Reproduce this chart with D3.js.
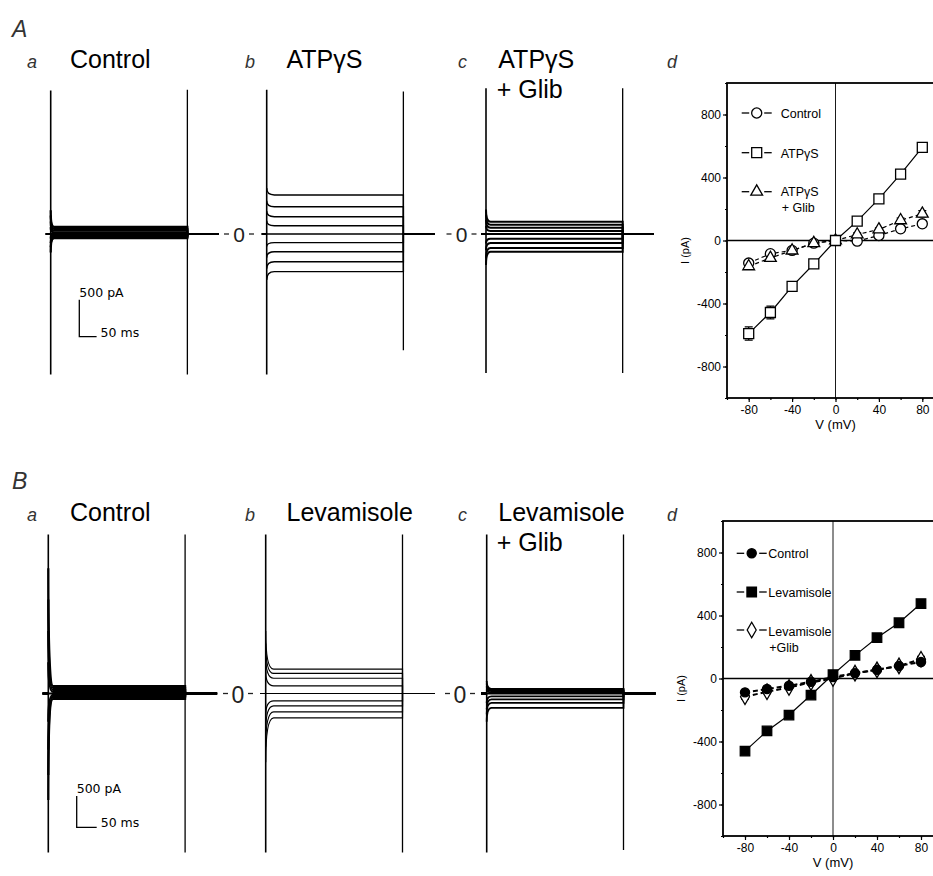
<!DOCTYPE html>
<html lang="en">
<head>
<meta charset="UTF-8">
<title>Whole-cell currents: ATPgammaS and levamisole</title>
<style>
  body { margin: 0; background: #fff; }
  text { font-family: "Liberation Sans", Arial, sans-serif; fill: #000; }
  .lbl { font-style: italic; fill: #333; }
</style>
</head>
<body>
<div id="fig"></div>
<script src="https://d3js.org/d3.v7.min.js"></script>
<script>
// step potentials (mV)
var steps = [-80, -60, -40, -20, 0, 20, 40, 60, 80];

// steady current of each trace in the recordings (pA), one per step
var trCtrlA = [-55, -40, -25, -12, 0, 20, 45, 70, 95];
var trAtpA  = [-509, -374, -239, -117, 0, 112, 234, 369, 527];
var trGlibA = [-240, -190, -120, -65, 0, 40, 85, 125, 166];
var trCtrlB = [-85, -60, -40, -20, 0, 25, 55, 90, 120];
var trLevB  = [-388, -293, -197, -117, 0, 122, 244, 320, 388];
var trGlibB = [-230, -150, -95, -45, 0, 20, 40, 60, 75];

// current right after the onset transient (pA)
var onCtrlA = [-250, -180, -120, -60, 0, 90, 170, 250, 320];
var onAtpA  = [-620, -470, -320, -170, 0, 180, 310, 450, 620];
var onGlibA = [-420, -330, -220, -130, 0, 110, 190, 260, 330];
var onCtrlB = [-1700, -1300, -900, -450, 0, 500, 1000, 1500, 2000];
var onLevB  = [-1100, -850, -600, -350, 0, 350, 600, 800, 1000];
var onGlibB = [-450, -330, -250, -150, 0, 60, 110, 160, 200];

// capacitive spikes: [onset top, onset bottom, offset top, offset bottom] (pA)
var spkCtrlA = [1940, -1900, 1950, -1900];
var spkAtpA  = [1950, -1900, 1925, -1570];
var spkGlibA = [1970, -1880, 1970, -1880];
var spkCtrlB = [2540, -2540, 2540, -2540];
var spkLevB  = [2540, -2540, 2540, -2540];
var spkGlibB = [2540, -2540, 2540, -2500];

// I-V means and s.e.m. (pA)
var ivCtrlA  = [-143, -84, -63, -17, 0, -4, 32, 74, 106];
var errCtrlA = [15, 15, 10, 8, 4, 8, 10, 15, 20];
var ivAtpA   = [-591, -457, -291, -149, 0, 123, 264, 421, 591];
var errAtpA  = [42, 40, 12, 12, 5, 15, 15, 15, 30];
var ivGlibA  = [-164, -111, -64, -17, 0, 38, 70, 128, 170];
var errGlibA = [15, 12, 10, 8, 4, 10, 10, 15, 20];

var ivCtrlB  = [-88, -67, -46, -21, 10, 34, 55, 80, 105];
var errCtrlB = [15, 12, 10, 10, 8, 10, 10, 12, 15];
var ivLevB   = [-461, -333, -232, -105, 25, 147, 259, 354, 476];
var errLevB  = [20, 18, 15, 12, 10, 15, 15, 18, 20];
var ivLevGlibB  = [-116, -84, -57, -25, 0, 34, 55, 80, 122];
var errLevGlibB = [15, 12, 10, 10, 8, 10, 10, 12, 18];

var ivYTicks = [-800, -400, 0, 400, 800];
var ivXTicks = [-80, -40, 0, 40, 80];

var svg = d3.select("#fig").append("svg")
    .attr("width", 933)
    .attr("height", 876);

// ---------- current traces ----------
var rowA = {zeroY: 234, pa500: 37, ms50: 17.3, stepMs: 395, preMs: 14, postMs: 90,
            x0: [50.7, 266.7, 486], bar: [79.3, 336.7], zeroLbl: [239, 461.5]};
var rowB = {zeroY: 693.5, pa500: 31.3, ms50: 20, stepMs: 342, preMs: 14, postMs: 80,
            x0: [48.3, 265.7, 486.7], bar: [76.7, 827.3], zeroLbl: [238, 460]};

function drawPanel(row, k, levels, onsets, spikes, relaxMs, sw) {
    var g = svg.append("g");
    var x = d3.scaleLinear().domain([0, 50]).range([row.x0[k], row.x0[k] + row.ms50]);
    var y = d3.scaleLinear().domain([0, 500]).range([row.zeroY, row.zeroY - row.pa500]);

    levels.forEach(function(lev, i) {
        var p = d3.path();
        p.moveTo(x(-row.preMs), y(0));
        p.lineTo(x(0), y(0));
        p.moveTo(x(0), y(onsets[i]));
        p.quadraticCurveTo(x(0), y(lev), x(relaxMs), y(lev));
        p.lineTo(x(row.stepMs), y(lev));
        p.lineTo(x(row.stepMs), y(0));
        p.lineTo(x(row.stepMs + row.postMs), y(0));
        g.append("path")
            .attr("d", p.toString())
            .attr("fill", "none")
            .attr("stroke", "#000")
            .attr("stroke-width", sw);
    });

    g.append("line")
        .attr("x1", x(0)).attr("x2", x(0))
        .attr("y1", y(spikes[0])).attr("y2", y(spikes[1]))
        .attr("stroke", "#000").attr("stroke-width", 1.6);
    g.append("line")
        .attr("x1", x(row.stepMs)).attr("x2", x(row.stepMs))
        .attr("y1", y(spikes[2])).attr("y2", y(spikes[3]))
        .attr("stroke", "#000").attr("stroke-width", 1.3);
}

drawPanel(rowA, 0, trCtrlA, onCtrlA, spkCtrlA, 10, 2.2);
drawPanel(rowA, 1, trAtpA, onAtpA, spkAtpA, 22, 1.4);
drawPanel(rowA, 2, trGlibA, onGlibA, spkGlibA, 13, 2);
drawPanel(rowB, 0, trCtrlB, onCtrlB, spkCtrlB, 12, 2.2);
drawPanel(rowB, 1, trLevB, onLevB, spkLevB, 20, 1.2);
drawPanel(rowB, 2, trGlibB, onGlibB, spkGlibB, 12, 1.8);

// "- 0 -" zero-current markers and scale bars
[rowA, rowB].forEach(function(row, r) {
    row.zeroLbl.forEach(function(cx) {
        svg.append("text")
            .attr("x", cx).attr("y", row.zeroY + (r ? 9 : 8))
            .attr("text-anchor", "middle")
            .style("font-size", r ? "23px" : "21px")
            .style("fill", "#222")
            .text("0");
        [-1, 1].forEach(function(s) {
            svg.append("line")
                .attr("x1", cx + s * 10).attr("x2", cx + s * 15)
                .attr("y1", row.zeroY).attr("y2", row.zeroY)
                .attr("stroke", "#222").attr("stroke-width", 1.3);
        });
    });

    var bx = d3.scaleLinear().domain([0, 50]).range([row.bar[0], row.bar[0] + row.ms50]);
    var by = d3.scaleLinear().domain([0, 500]).range([row.bar[1], row.bar[1] - row.pa500]);
    svg.append("path")
        .attr("d", "M" + bx(0) + "," + by(500) + "V" + by(0) + "H" + bx(50))
        .attr("fill", "none").attr("stroke", "#000").attr("stroke-width", 1.3);
    svg.append("text")
        .attr("x", bx(0)).attr("y", by(500) - 3)
        .style("font-family", "'DejaVu Sans', sans-serif")
        .style("font-size", "12.5px")
        .text("500 pA");
    svg.append("text")
        .attr("x", bx(50) + 4).attr("y", by(0))
        .style("font-family", "'DejaVu Sans', sans-serif")
        .style("font-size", "12.5px")
        .text("50 ms");
});

// ---------- headings ----------
function head(x, y, s, size, cls) {
    svg.append("text").attr("x", x).attr("y", y)
        .attr("class", cls || null)
        .style("font-size", size + "px")
        .text(s);
}
head(12, 36.7, "A", 23, "lbl");
head(12, 489, "B", 23, "lbl");
[[68.3, "Control", "ATPγS"], [521, "Control", "Levamisole"]].forEach(function(h) {
    var yb = h[0];
    head(27, yb, "a", 18, "lbl");
    head(70, yb, h[1], 25);
    head(245, yb, "b", 18, "lbl");
    head(286.5, yb, h[2], 25);
    head(458, yb, "c", 18, "lbl");
    head(498.3, yb, h[2], 25);
    head(496.7, yb + 30, "+ Glib", 25);
    head(667, yb, "d", 18, "lbl");
});

// ---------- I-V plots ----------
function drawIV(box, series, legend) {
    var g = svg.append("g");
    var x = d3.scaleLinear().domain([-100, 100]).range([box.x0, box.x1]);
    var y = d3.scaleLinear().domain([-1000, 1000]).range([box.y1, box.y0]);

    g.append("line").attr("x1", x(0)).attr("x2", x(0))
        .attr("y1", y(1000)).attr("y2", y(-1000))
        .attr("stroke", "#000").attr("stroke-width", 0.9);
    g.append("line").attr("x1", x(-100)).attr("x2", x(100))
        .attr("y1", y(0)).attr("y2", y(0))
        .attr("stroke", "#000").attr("stroke-width", 1.3);

    var ax = g.append("g").attr("transform", "translate(0," + y(-1000) + ")")
        .call(d3.axisBottom(x).tickValues(ivXTicks).tickSize(4).tickPadding(3).tickFormat(String));
    var ay = g.append("g").attr("transform", "translate(" + x(-100) + ",0)")
        .call(d3.axisLeft(y).tickValues(ivYTicks).tickSize(4).tickPadding(2).tickFormat(String));
    g.append("g").attr("transform", "translate(0," + y(-1000) + ")")
        .call(d3.axisBottom(x).tickValues(d3.range(-100, 101, 20)).tickSize(2).tickFormat(""));
    g.append("g").attr("transform", "translate(" + x(-100) + ",0)")
        .call(d3.axisLeft(y).tickValues(d3.range(-1000, 1001, 200)).tickSize(2).tickFormat(""));
    g.selectAll(".domain").remove();
    g.selectAll(".tick line").attr("stroke-width", 1.2);
    [ax, ay].forEach(function(a) {
        a.selectAll("text").style("font-size", "12px")
            .style("font-family", "'Liberation Sans', Arial, sans-serif").attr("fill", "#000");
    });

    g.append("rect")
        .attr("x", x(-100)).attr("y", y(1000))
        .attr("width", x(100) - x(-100)).attr("height", y(-1000) - y(1000))
        .attr("fill", "none").attr("stroke", "#000").attr("stroke-width", 1.8);

    g.append("text")
        .attr("transform", "translate(" + (x(-100) - 38) + "," + (y(0) + 10) + ") rotate(-90)")
        .attr("text-anchor", "middle")
        .style("font-size", "11px")
        .text("I (pA)");
    g.append("text")
        .attr("x", x(0)).attr("y", y(-1000) + 31)
        .attr("text-anchor", "middle")
        .style("font-size", "13px")
        .text("V (mV)");

    var line = d3.line().x(function(d, i) { return x(steps[i]); }).y(function(d) { return y(d); });

    series.forEach(function(s) {
        g.append("path").attr("d", line(s.vals))
            .attr("fill", "none").attr("stroke", "#000")
            .attr("stroke-width", s.lw).attr("stroke-dasharray", s.dash);
        s.vals.forEach(function(v, i) {
            var e = s.err[i], cx = x(steps[i]);
            g.append("path")
                .attr("d", "M" + cx + "," + y(v - e) + "V" + y(v + e) +
                    "M" + (cx - 4) + "," + y(v - e) + "h8M" + (cx - 4) + "," + y(v + e) + "h8")
                .attr("stroke", "#000").attr("stroke-width", 1.2).attr("fill", "none");
        });
    });
    series.forEach(function(s) {
        g.selectAll(null).data(s.vals).enter().append("path")
            .attr("transform", function(d, i) { return "translate(" + x(steps[i]) + "," + y(d) + ")"; })
            .attr("d", d3.symbol().type(s.sym).size(s.size))
            .attr("fill", s.fill).attr("stroke", "#000").attr("stroke-width", 1.3);
    });

    legend.forEach(function(l) {
        [-1, 1].forEach(function(sg) {
            g.append("line")
                .attr("x1", l.cx + sg * 7.5).attr("x2", l.cx + sg * 15)
                .attr("y1", l.y).attr("y2", l.y)
                .attr("stroke", "#000").attr("stroke-width", 1.3);
        });
        g.append("path")
            .attr("transform", "translate(" + l.cx + "," + l.y + ")")
            .attr("d", d3.symbol().type(l.s.sym).size(l.s.size))
            .attr("fill", l.s.fill).attr("stroke", "#000").attr("stroke-width", 1.3);
        l.lines.forEach(function(t, j) {
            g.append("text")
                .attr("x", l.tx + (j ? 1 : 0)).attr("y", l.ty + j * 16)
                .style("font-size", "12.5px")
                .text(t);
        });
    });
}

var sCtrlA = {vals: ivCtrlA, err: errCtrlA, sym: d3.symbolCircle, size: 80, fill: "#fff", dash: "4,3", lw: 1.2};
var sGlibA = {vals: ivGlibA, err: errGlibA, sym: d3.symbolTriangle, size: 60, fill: "#fff", dash: "4,3", lw: 1.2};
var sAtpA  = {vals: ivAtpA, err: errAtpA, sym: d3.symbolSquare, size: 100, fill: "#fff", dash: null, lw: 1.2};

drawIV({x0: 727, x1: 944, y0: 83, y1: 398}, [sCtrlA, sGlibA, sAtpA], [
    {s: sCtrlA, cx: 756.7, y: 113, tx: 780.7, ty: 118.3, lines: ["Control"]},
    {s: sAtpA, cx: 756.7, y: 152.7, tx: 780.7, ty: 158, lines: ["ATPγS"]},
    {s: sGlibA, cx: 756.7, y: 191.7, tx: 780.7, ty: 196, lines: ["ATPγS", "+ Glib"]}
]);

var sLevGlibB = {vals: ivLevGlibB, err: errLevGlibB, sym: d3.symbolDiamond, size: 70, fill: "#fff", dash: "5,3", lw: 2};
var sCtrlB = {vals: ivCtrlB, err: errCtrlB, sym: d3.symbolCircle, size: 66, fill: "#000", dash: "5,3", lw: 2};
var sLevB  = {vals: ivLevB, err: errLevB, sym: d3.symbolSquare, size: 90, fill: "#000", dash: null, lw: 1.2};

drawIV({x0: 723, x1: 943, y0: 521, y1: 836}, [sLevGlibB, sCtrlB, sLevB], [
    {s: sCtrlB, cx: 751.7, y: 553.3, tx: 768.3, ty: 558.3, lines: ["Control"]},
    {s: sLevB, cx: 751.7, y: 592, tx: 768.3, ty: 597, lines: ["Levamisole"]},
    {s: sLevGlibB, cx: 751.7, y: 630, tx: 768.3, ty: 635.7, lines: ["Levamisole", "+Glib"]}
]);
</script>
</body>
</html>
